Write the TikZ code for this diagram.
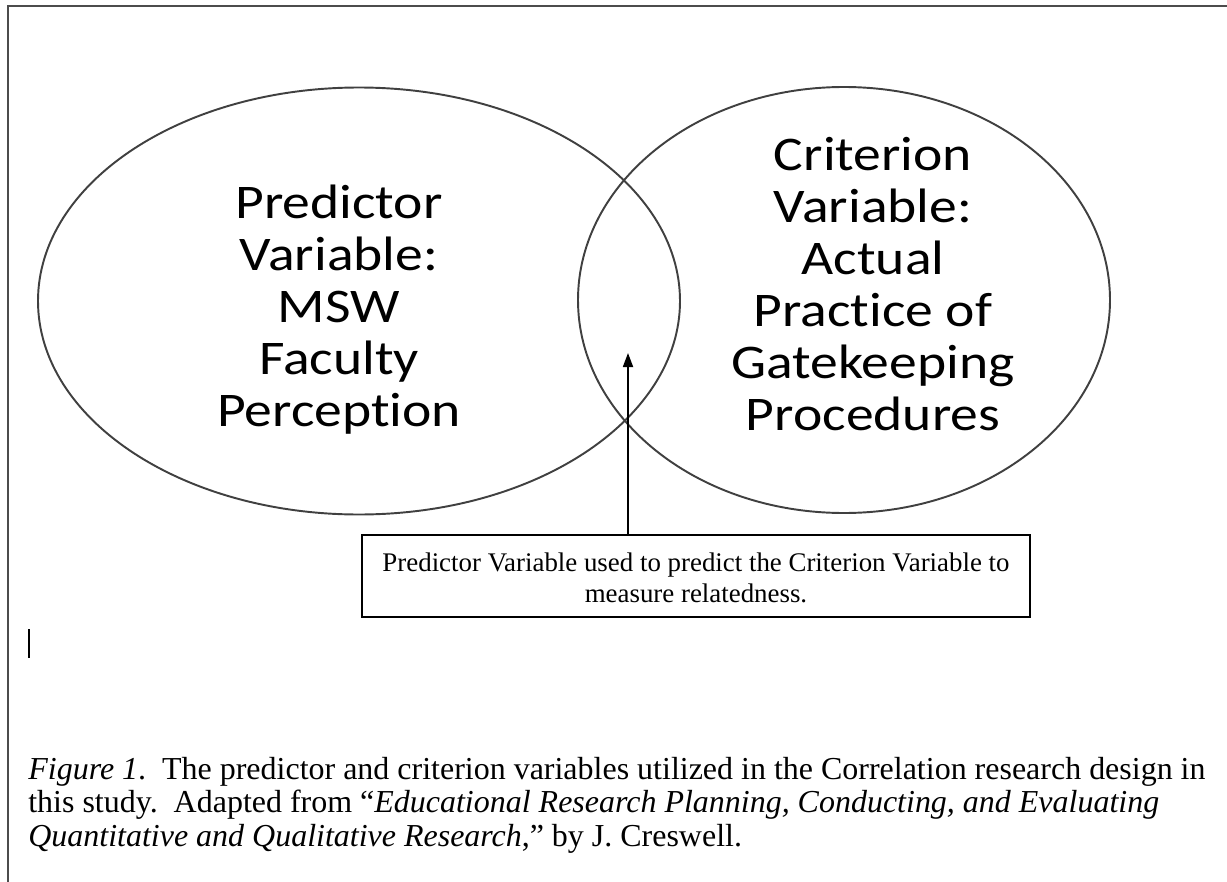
\documentclass[tikz,border=0pt]{standalone}
\usepackage{fontspec}
\setmainfont{Liberation Serif}
\newfontfamily\ovalfont[FakeStretch=1.15, Ligatures=NoCommon]{Carlito}
\usetikzlibrary{shapes.geometric, arrows.meta, positioning}

\begin{document}
\begin{tikzpicture}[x=0.02cm, y=-0.02cm,
  oval/.style={ellipse, draw=black!75, line width=1.1pt, inner sep=0pt},
  ovaltext/.style={align=center, inner sep=0pt, font=\ovalfont\fontsize{27.5}{29.6}\selectfont},
  notebox/.style={draw, line width=1pt, align=center, inner sep=0pt,
    minimum width=668*0.02cm, minimum height=82*0.02cm,
    font=\fontsize{15.3}{17.6}\selectfont},
  caption/.style={anchor=base west, align=left, inner sep=0pt,
    font=\fontsize{18.2}{18.8}\selectfont}]

\useasboundingbox (0,0) rectangle (1227,882);

% frame (top and left only)
\draw[black!70, line width=1pt] (1227,6) -- (8,6) -- (8,882);

% the two variables
\node[oval, minimum width=642*0.02cm, minimum height=427*0.02cm] (pred) at (359,301) {};
\node[oval, minimum width=532*0.02cm, minimum height=426*0.02cm] (crit) at (844,300) {};

\node[ovaltext] (predtext) at (339,310)
  {Predictor\\ Variable:\\ MSW\\ Faculty\\ Perception};
\node[ovaltext] (crittext) at (873,284)
  {Criterion\\ Variable:\\ Actual\\ Practice of\\ Gatekeeping\\ Procedures};

% note and pointer into the overlap
\node[notebox] (note) at (696,576)
  {\strut Predictor Variable used to predict the Criterion Variable to\\ measure relatedness.};
\coordinate (overlap) at (628,353);
\draw[-{Triangle[length=14*0.02cm, width=10*0.02cm]}, line width=1pt]
  (note.north -| overlap) -- (overlap);

% stray cursor mark
\draw[line width=1.2pt] (29,629) -- (29,658);

\node[caption] (cap) at (28,846)
  {\textit{Figure 1}.\ \ The predictor and criterion variables utilized in the Correlation research design in\\
   this study.\ \ Adapted from ``\textit{Educational Research Planning, Conducting, and Evaluating}\\
   \textit{Quantitative and Qualitative Research},'' by J. Creswell.};
\end{tikzpicture}
\end{document}
